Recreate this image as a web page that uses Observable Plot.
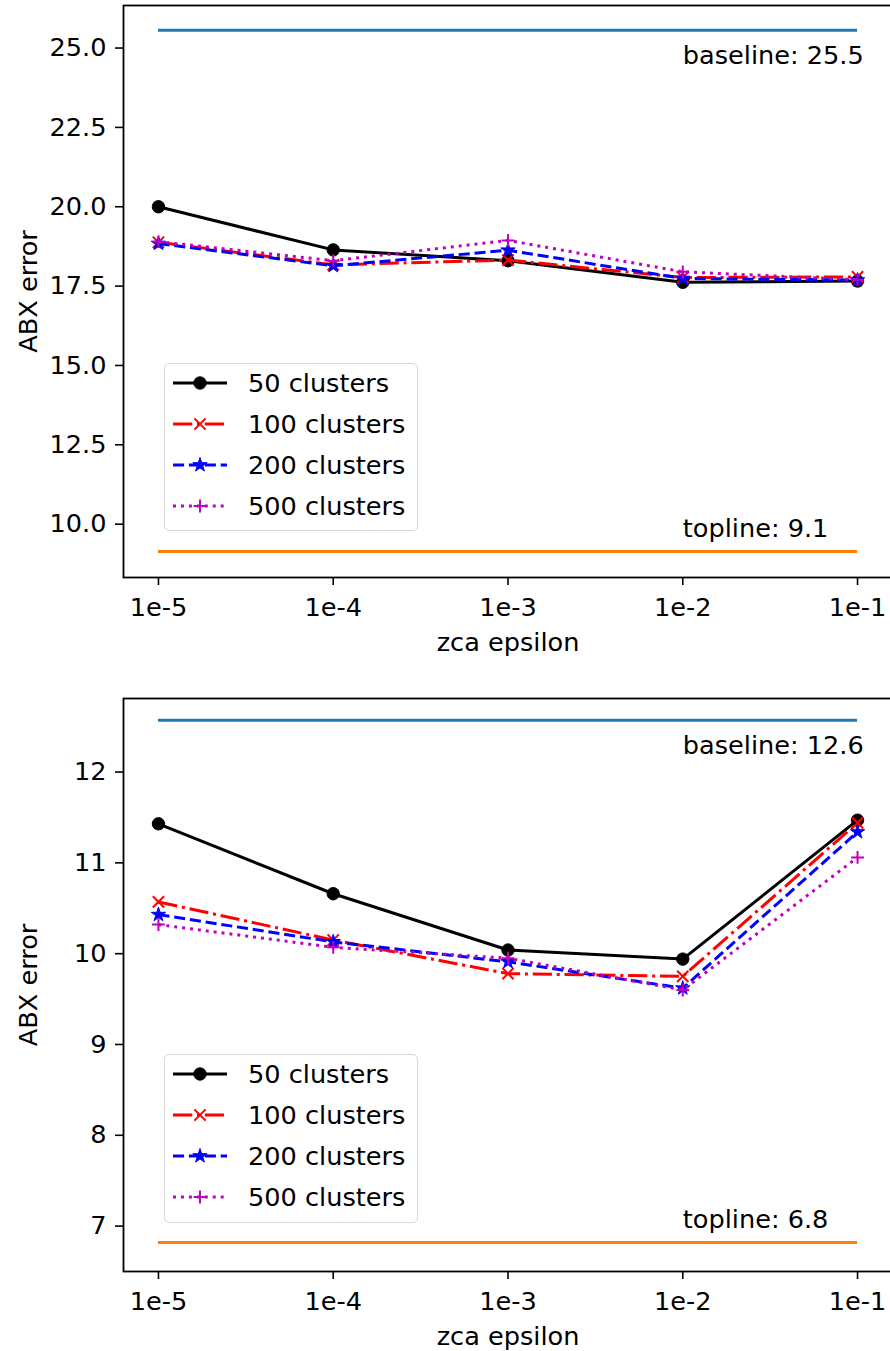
<!DOCTYPE html>
<html>
<head>
<meta charset="utf-8">
<script src="https://cdn.jsdelivr.net/npm/d3@7"></script>
<script src="https://cdn.jsdelivr.net/npm/@observablehq/plot@0.6"></script>
<style>
  html, body { margin: 0; padding: 0; background: white; overflow: hidden; }
  #wrap { position: relative; width: 890px; height: 1351px; overflow: hidden; background: white; font-family: "DejaVu Sans", sans-serif; }
  #wrap svg { display: block; }
  .legend { position: absolute; box-sizing: border-box; border: 1.5px solid #d6d6d6; border-radius: 5px; background: rgba(255,255,255,0.85); }
</style>
</head>
<body>
<div id="wrap">
  <div id="topChart"></div>
  <div id="bottomChart"></div>
  <div class="legend" id="legendTop" style="left:164px; top:363px; width:254px; height:168px;"></div>
  <div class="legend" id="legendBottom" style="left:164px; top:1054px; width:254px; height:169px;"></div>
</div>
<script>
// ---- data ----
const epsilons = [1e-5, 1e-4, 1e-3, 1e-2, 1e-1];
const epsLabels = ["1e-5", "1e-4", "1e-3", "1e-2", "1e-1"];
const seriesNames = ["50 clusters", "100 clusters", "200 clusters", "500 clusters"];

// top panel
const top50  = [20.00, 18.64, 18.30, 17.62, 17.66];
const top100 = [18.88, 18.17, 18.32, 17.77, 17.79];
const top200 = [18.84, 18.14, 18.63, 17.74, 17.69];
const top500 = [18.90, 18.30, 18.94, 17.95, 17.70];
const topBaseline = 25.56;
const topTopline = 9.14;
const topBaselineLabel = "baseline: 25.5";
const topToplineLabel = "topline: 9.1";
const topYTicks = [10.0, 12.5, 15.0, 17.5, 20.0, 22.5, 25.0];

// bottom panel
const bot50  = [11.43, 10.66, 10.04, 9.94, 11.47];
const bot100 = [10.57, 10.15, 9.78, 9.75, 11.44];
const bot200 = [10.43, 10.13, 9.91, 9.62, 11.34];
const bot500 = [10.32, 10.07, 9.95, 9.60, 11.06];
const botBaseline = 12.57;
const botTopline = 6.82;
const botBaselineLabel = "baseline: 12.6";
const botToplineLabel = "topline: 6.8";
const botYTicks = [7, 8, 9, 10, 11, 12];

const axisXLabel = "zca epsilon";
const axisYLabel = "ABX error";

// ---- styles ----
const seriesStyles = [
  {color: "#000000", dash: null,              symbol: "circle", r: 6.2, filled: true},
  {color: "#ff0000", dash: "19.2,4.8,3,4.8",  symbol: "times",  r: 5.2, filled: false},
  {color: "#0000ff", dash: "11.1,4.8",        symbol: "star",   r: 4.5, filled: true},
  {color: "#bf00bf", dash: "3,4.95",          symbol: "plus",   r: 4.2, filled: false}
];
const FONT = "DejaVu Sans";
const FS = 25.6;

function makeChart(cfg) {
  const marks = [];
  cfg.series.forEach((vals, s) => {
    const st = seriesStyles[s];
    const rows = vals.map((v, i) => ({eps: epsilons[i], v}));
    marks.push(Plot.line(rows, {x: "eps", y: "v", stroke: st.color, strokeWidth: 3,
      strokeDasharray: st.dash, strokeLinejoin: "round", strokeLinecap: "butt"}));
    marks.push(Plot.dot(rows, {x: "eps", y: "v", symbol: st.symbol, r: st.r,
      fill: st.filled ? st.color : "none", stroke: st.color,
      strokeWidth: st.filled ? 1 : 2}));
  });
  const refRows = [
    {y: cfg.baseline, x1: epsilons[0], x2: epsilons[4], color: "#1f77b4"},
    {y: cfg.topline, x1: epsilons[0], x2: epsilons[4], color: "#ff7f0e"}
  ];
  marks.push(Plot.ruleY(refRows, {y: "y", x1: "x1", x2: "x2", stroke: "color", strokeWidth: 3}));
  marks.push(Plot.text([{x: epsilons[3], y: cfg.baseline, t: cfg.baseLabel}],
    {x: "x", y: "y", text: "t", textAnchor: "start", lineAnchor: "top", dy: 16, fontSize: FS, fill: "black"}));
  marks.push(Plot.text([{x: epsilons[3], y: cfg.topline, t: cfg.topLabel}],
    {x: "x", y: "y", text: "t", textAnchor: "start", lineAnchor: "top", dy: -33, fontSize: FS, fill: "black"}));
  marks.push(Plot.axisX(epsilons, {tickSize: 8, tickPadding: 12, fontSize: FS, strokeWidth: 1.6,
    tickFormat: d => epsLabels[epsilons.indexOf(d)], label: null}));
  marks.push(Plot.axisY(cfg.yTicks, {tickSize: 8, tickPadding: 9, fontSize: FS, strokeWidth: 1.6,
    tickFormat: cfg.yFormat, label: null}));
  marks.push(Plot.text([axisXLabel], {frameAnchor: "bottom", textAnchor: "middle", lineAnchor: "top", dy: 55, fontSize: FS, fill: "black"}));
  marks.push(Plot.text([axisYLabel], {frameAnchor: "left", textAnchor: "middle", rotate: -90, lineAnchor: "bottom", dx: -87, fontSize: FS, fill: "black"}));
  marks.push(Plot.frame({stroke: "black", strokeWidth: 1.8}));

  return Plot.plot({
    width: 892,
    height: cfg.height,
    marginLeft: 123,
    marginRight: 0,
    marginTop: cfg.marginTop,
    marginBottom: cfg.marginBottom,
    style: {fontFamily: FONT, fontSize: FS + "px", color: "black", background: "white", maxWidth: "none", overflow: "visible"},
    x: {type: "log", domain: [1e-5 * Math.pow(10, -0.2), 1e-1 * Math.pow(10, 0.2)]},
    y: {domain: cfg.yDomain},
    marks
  });
}

document.getElementById("topChart").appendChild(makeChart({
  series: [top50, top100, top200, top500],
  baseline: topBaseline, topline: topTopline,
  baseLabel: topBaselineLabel, topLabel: topToplineLabel,
  yDomain: [8.32, 26.34], yTicks: topYTicks, yFormat: d3.format(".1f"),
  height: 693, marginTop: 5, marginBottom: 116
}));
document.getElementById("bottomChart").appendChild(makeChart({
  series: [bot50, bot100, bot200, bot500],
  baseline: botBaseline, topline: botTopline,
  baseLabel: botBaselineLabel, topLabel: botToplineLabel,
  yDomain: [6.50, 12.81], yTicks: botYTicks, yFormat: d3.format("d"),
  height: 658, marginTop: 5, marginBottom: 80
}));

// ---- legends ----
const symbolTypes = {circle: d3.symbolCircle, times: d3.symbolTimes, star: d3.symbolStar, plus: d3.symbolPlus};
function drawLegend(id, h) {
  const svg = d3.select("#" + id).append("svg")
    .attr("width", 251).attr("height", h - 3)
    .style("position", "absolute").style("left", "0px").style("top", "0px");
  seriesNames.forEach((name, i) => {
    const st = seriesStyles[i];
    const y = 19 + 41 * i;
    svg.append("line").attr("x1", 8).attr("x2", 62).attr("y1", y).attr("y2", y)
      .attr("stroke", st.color).attr("stroke-width", 3)
      .attr("stroke-dasharray", st.dash);
    svg.append("path").attr("transform", `translate(35,${y})`)
      .attr("d", d3.symbol(symbolTypes[st.symbol], st.r * st.r * Math.PI)())
      .attr("fill", st.filled ? st.color : "none").attr("stroke", st.color)
      .attr("stroke-width", st.filled ? 1 : 2);
    svg.append("text").attr("x", 83).attr("y", y).attr("dy", "0.35em")
      .attr("font-family", FONT).attr("font-size", FS).attr("fill", "black").text(name);
  });
}
drawLegend("legendTop", 168);
drawLegend("legendBottom", 169);
</script>
</body>
</html>
